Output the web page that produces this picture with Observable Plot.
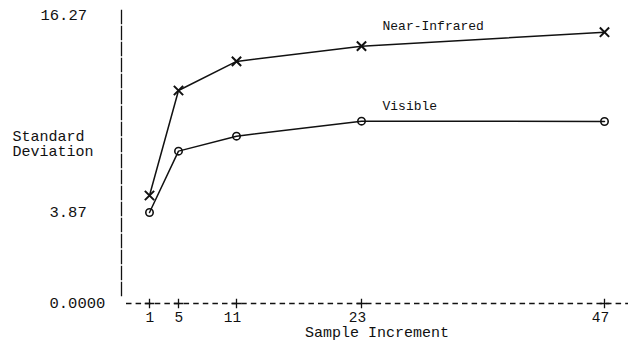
<!DOCTYPE html>
<html>
<head>
<meta charset="utf-8">
<script src="https://cdn.jsdelivr.net/npm/d3@7"></script>
<script src="https://cdn.jsdelivr.net/npm/@observablehq/plot@0.6"></script>
<style>
  html, body { margin: 0; padding: 0; background: #fff; }
</style>
</head>
<body>
<div id="chart"></div>
<script>
// ---- data ----
const sampleIncrement = [1, 5, 11, 23, 47];
const nearInfrared = [5.04, 12.26, 14.26, 15.31, 16.27];
const visibleBand = [3.87, 8.09, 9.12, 10.15, 10.13];
const seriesNames = ["Near-Infrared", "Visible"];
const xTicks = [1, 5, 11, 23, 47];
const yTicks = [0, 3.87, 16.27];
const yTickLabels = ["0.0000", "3.87", "16.27"];
const xTitle = "Sample Increment";
const yTitle = "Standard\nDeviation";

const rows = [];
sampleIncrement.forEach((x, i) => {
  rows.push({series: seriesNames[0], x, y: nearInfrared[i]});
  rows.push({series: seriesNames[1], x, y: visibleBand[i]});
});
const nir = rows.filter(d => d.series === seriesNames[0]);
const vis = rows.filter(d => d.series === seriesNames[1]);
const ink = "#111";
const font = "Liberation Mono, DejaVu Sans Mono, monospace";

const chart = Plot.plot({
  width: 632,
  height: 342,
  marginLeft: 121,
  marginRight: 4,
  marginTop: 10,
  marginBottom: 39,
  style: {fontFamily: font, background: "#fff", color: ink},
  x: {type: "linear", domain: xTicks, range: [149, 178, 236, 361, 604], axis: null},
  y: {type: "linear", domain: yTicks, range: [303, 212, 31.7], axis: null},
  marks: [
    // vertical dashed axis
    Plot.frame({anchor: "left", stroke: ink, strokeWidth: 1.3, strokeDasharray: "13,3", insetBottom: 8}),
    // horizontal dashed axis
    Plot.ruleY([0], {stroke: ink, strokeWidth: 1.3, strokeDasharray: "5.5,4.1", insetLeft: 5}),
    Plot.dot(xTicks, {x: d => d, y: () => 0, symbol: "plus", r: 3.2, stroke: ink, strokeWidth: 1.3}),
    // tick labels
    Plot.text(xTicks, {x: d => d, y: () => 0, text: d => String(d), textAnchor: "end", dx: 4.6, dy: 13.5, fontSize: 14.5, fill: ink}),
    Plot.text(yTicks.slice(0, 2), {y: d => d, text: (d, i) => yTickLabels[i], frameAnchor: "left", textAnchor: "start", dx: -72, fontSize: 15.5, fill: ink}),
    Plot.text(yTicks.slice(2), {y: d => d, text: () => yTickLabels[2], frameAnchor: "left", textAnchor: "start", dx: -81, dy: -16.7, fontSize: 15.5, fill: ink}),
    // axis titles
    Plot.text([xTitle], {text: d => d, frameAnchor: "bottom", dx: 2, dy: 33.5, fontSize: 15, fill: ink}),
    Plot.text([yTitle], {text: d => d, frameAnchor: "left", textAnchor: "start", dx: -109, dy: -13.5, lineHeight: 1.05, fontSize: 15, fill: ink}),
    // series
    Plot.line(rows, {x: "x", y: "y", z: "series", stroke: ink, strokeWidth: 1.5}),
    Plot.dot(nir, {x: "x", y: "y", symbol: "times", r: 4.3, stroke: ink, strokeWidth: 2}),
    Plot.dot(vis, {x: "x", y: "y", symbol: "circle", r: 3.7, stroke: ink, strokeWidth: 1.6, fill: "none"}),
    // series labels
    Plot.text(nir.filter(d => d.x === 23), {x: "x", y: "y", text: "series", textAnchor: "start", dx: 21, dy: -20.7, fontSize: 13, fill: ink}),
    Plot.text(vis.filter(d => d.x === 23), {x: "x", y: "y", text: "series", textAnchor: "start", dx: 21, dy: -15.7, fontSize: 13, fill: ink})
  ]
});
document.getElementById("chart").appendChild(chart);
</script>
</body>
</html>
